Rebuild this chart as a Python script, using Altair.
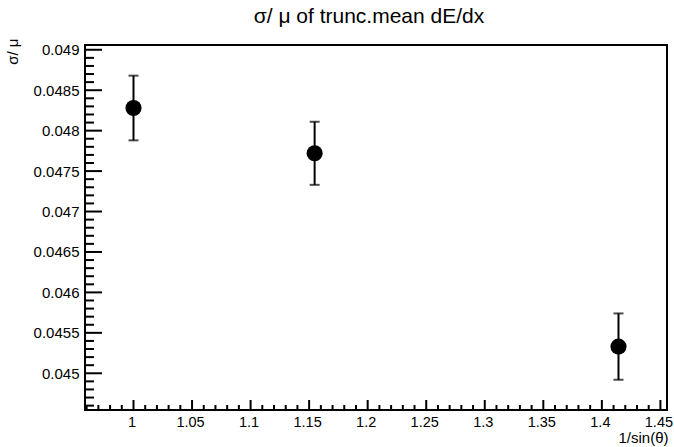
import altair as alt
import pandas as pd

# ---- data ----
inv_sin = [1.0, 1.1547, 1.4142]
ratio = [0.04828, 0.04772, 0.04533]
ratio_err = [0.00040, 0.00039, 0.00041]

x_major = [1.0, 1.05, 1.1, 1.15, 1.2, 1.25, 1.3, 1.35, 1.4, 1.45]
y_major = [0.045, 0.0455, 0.046, 0.0465, 0.047, 0.0475, 0.048, 0.0485, 0.049]

x_domain = [0.95858, 1.45563]
y_domain = [0.044546, 0.049059]

x_minor = [round(0.96 + 0.01 * i, 4) for i in range(50)]
x_minor = [v for v in x_minor if v <= x_domain[1] and all(abs(v - m) > 1e-6 for m in x_major)]
y_minor = [round(0.0446 + 0.0001 * i, 6) for i in range(45)]
y_minor = [v for v in y_minor if v <= y_domain[1] and all(abs(v - m) > 1e-9 for m in y_major)]

W, H = 582, 365
FONT = "Liberation Sans"

df = pd.DataFrame({"x": inv_sin, "y": ratio, "e": ratio_err})
df["lo"] = df["y"] - df["e"]
df["hi"] = df["y"] + df["e"]

xs = alt.Scale(domain=x_domain, nice=False, zero=False)
ys = alt.Scale(domain=y_domain, nice=False, zero=False)

x_axis = alt.Axis(values=x_major, format="~g", ticks=False, tickSize=0, domain=False, grid=False,
                  labelFont=FONT, labelFontSize=14.5, labelPadding=5, labelColor="black", labelOffset=-2,
                  title="1/sin(θ)", titleFont=FONT, titleFontSize=15, titleFontWeight="normal",
                  titleAnchor="end", titleAlign="right", titleBaseline="alphabetic",
                  titleX=W + 1, titleY=32, titleColor="black",
                  labelFlush=False)
y_axis = alt.Axis(values=y_major, format="~g", ticks=False, tickSize=0, domain=False, grid=False,
                  labelFont=FONT, labelFontSize=15, labelPadding=6, labelColor="black",
                  title="σ/ μ", titleFont=FONT, titleFontSize=15, titleFontWeight="normal",
                  titleAngle=-90, titleAlign="right", titleBaseline="alphabetic",
                  titleX=-68, titleY=-7, titleColor="black", labelFlush=False)

base = alt.Chart(df)

bars = base.mark_rule(color="black", strokeWidth=2).encode(
    x=alt.X("x:Q", scale=xs, axis=x_axis),
    y=alt.Y("lo:Q", scale=ys, axis=y_axis),
    y2="hi:Q",
)
cap_hi = base.mark_tick(color="black", thickness=2, size=10, orient="horizontal").encode(
    x=alt.X("x:Q", scale=xs), y=alt.Y("hi:Q", scale=ys))
cap_lo = base.mark_tick(color="black", thickness=2, size=10, orient="horizontal").encode(
    x=alt.X("x:Q", scale=xs), y=alt.Y("lo:Q", scale=ys))
pts = base.mark_circle(color="black", opacity=1, size=260).encode(
    x=alt.X("x:Q", scale=xs), y=alt.Y("y:Q", scale=ys))

xmaj = alt.Chart(pd.DataFrame({"t": x_major})).mark_rule(color="black", strokeWidth=2).encode(
    x=alt.X("t:Q", scale=xs), y=alt.value(H), y2=alt.value(H - 10))
xmin = alt.Chart(pd.DataFrame({"t": x_minor})).mark_rule(color="black", strokeWidth=2).encode(
    x=alt.X("t:Q", scale=xs), y=alt.value(H), y2=alt.value(H - 5))
ymaj = alt.Chart(pd.DataFrame({"t": y_major})).mark_rule(color="black", strokeWidth=2).encode(
    y=alt.Y("t:Q", scale=ys), x=alt.value(0), x2=alt.value(17))
ymin = alt.Chart(pd.DataFrame({"t": y_minor})).mark_rule(color="black", strokeWidth=2).encode(
    y=alt.Y("t:Q", scale=ys), x=alt.value(0), x2=alt.value(9))

chart = alt.layer(bars, cap_hi, cap_lo, pts, xmaj, xmin, ymaj, ymin).properties(
    width=W, height=H,
    background="white",
    title=alt.TitleParams("σ/ μ of trunc.mean dE/dx", font=FONT, fontSize=21, fontWeight="normal",
                          anchor="middle", color="black", offset=11, dx=-7),
    autosize=alt.AutoSizeParams(type="none"),
    padding={"left": 85, "top": 45, "right": 7, "bottom": 37},
).configure_view(stroke="black", strokeWidth=2)

chart.save("out.html", embed_options={"renderer": "svg", "actions": False})
